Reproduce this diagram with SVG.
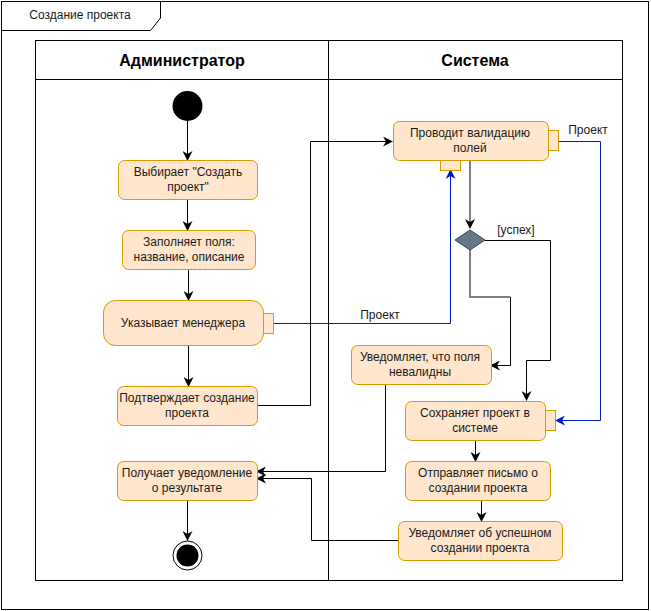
<svg xmlns="http://www.w3.org/2000/svg" width="651" height="611" viewBox="0 0 651 611">
<defs>
<marker id="ab" viewBox="0 0 10 10" refX="9" refY="5" markerWidth="10" markerHeight="10" markerUnits="userSpaceOnUse" orient="auto"><path d="M0,0 L10,5 L0,10 L3,5 Z" fill="#000"/></marker>
<marker id="abl" viewBox="0 0 10 10" refX="9" refY="5" markerWidth="10" markerHeight="10" markerUnits="userSpaceOnUse" orient="auto"><path d="M0,0 L10,5 L0,10 L3,5 Z" fill="#001DBC"/></marker>
<style>
text{font-family:"Liberation Sans",Arial,Helvetica,sans-serif;font-size:12px;fill:#1a1a1a;text-anchor:middle}
.hdr{font-size:16px;font-weight:bold;fill:#000}
.act{fill:#ffe6cc;stroke:#d79b00;stroke-width:1}
.pin{fill:#ffe6cc;stroke:#d79b00;stroke-width:1}
.ln{fill:none;stroke:#000;stroke-width:1}
.gr{fill:none;stroke:#808080;stroke-width:2}
.bl{fill:none;stroke:#001DBC;stroke-width:1}
.frame{fill:none;stroke:#000;stroke-width:1}
</style>
</defs>
<rect width="651" height="611" fill="#fff"/>
<g id="frame">
<rect class="frame" x="1.5" y="1.5" width="647" height="608"/>
<path class="frame" d="M1.5,30.5 L150.5,30.5 L160.5,18 L160.5,1.5"/>
<text x="80" y="19" text-anchor="middle">Создание проекта</text>
</g>
<g id="pool">
<rect class="frame" x="35.5" y="40.5" width="587" height="540"/>
<line class="frame" x1="35.5" y1="79.5" x2="622.5" y2="79.5"/>
<line class="frame" x1="328.5" y1="40.5" x2="328.5" y2="580.5"/>
<text class="hdr" x="182" y="66">Администратор</text>
<text class="hdr" x="475" y="66">Система</text>
</g>
<g id="connectors">
<line class="ln" x1="187.5" y1="121" x2="187.5" y2="160" marker-end="url(#ab)"/>
<line class="ln" x1="187.5" y1="200" x2="187.5" y2="230" marker-end="url(#ab)"/>
<line class="ln" x1="188.5" y1="270" x2="188.5" y2="300" marker-end="url(#ab)"/>
<line class="ln" x1="188.5" y1="346" x2="188.5" y2="386" marker-end="url(#ab)"/>
<polyline class="ln" points="257,405.5 310.5,405.5 310.5,141.5 392,141.5" marker-end="url(#ab)"/>
<polyline class="bl" points="274,323.5 450.5,323.5 450.5,170" marker-end="url(#abl)"/>
<text x="380" y="319">Проект</text>
<polyline class="bl" points="558,141.5 600.5,141.5 600.5,420.5 556,420.5" marker-end="url(#abl)"/>
<text x="588" y="134">Проект</text>
<line class="gr" x1="470" y1="160" x2="470" y2="222"/>
<path d="M465,219 L470,229 L475,219 L470,222 Z" fill="#000"/>
<polyline class="ln" points="485,240.5 550.5,240.5 550.5,360.5 526.5,360.5 526.5,400" marker-end="url(#ab)"/>
<text x="516" y="234">[успех]</text>
<polyline class="ln" points="510.5,297 510.5,365.5 491,365.5" marker-end="url(#ab)"/>
<polyline class="gr" points="470,250 470,297 510.5,297"/>
<polyline class="ln" points="385.5,385 385.5,471.5 257,471.5" marker-end="url(#ab)"/>
<polyline class="ln" points="398,540.5 311.5,540.5 311.5,478.5 257,478.5" marker-end="url(#ab)"/>
<line class="ln" x1="475.5" y1="440" x2="475.5" y2="461" marker-end="url(#ab)"/>
<line class="ln" x1="481.5" y1="500" x2="481.5" y2="521" marker-end="url(#ab)"/>
<line class="ln" x1="187.5" y1="501" x2="187.5" y2="540" marker-end="url(#ab)"/>
</g>
<g id="start"><circle cx="187.5" cy="106" r="15" fill="#000"/></g>
<g id="a1"><rect class="act" x="118.5" y="160.5" width="139" height="39" rx="6"/><text x="188" y="176">Выбирает "Создать</text><text x="188" y="191">проект"</text></g>
<g id="a2"><rect class="act" x="122.5" y="230.5" width="133" height="39" rx="6"/><text x="189" y="246">Заполняет поля:</text><text x="189" y="261">название, описание</text></g>
<g id="a3"><rect class="act" x="103.5" y="300.5" width="160" height="45" rx="12"/><rect class="pin" x="263.5" y="313.5" width="10" height="20"/><text x="183" y="327">Указывает менеджера</text></g>
<g id="a4"><rect class="act" x="117.5" y="386.5" width="140" height="39" rx="6"/><text x="187" y="402">Подтверждает создание</text><text x="187" y="417">проекта</text></g>
<g id="a5"><rect class="act" x="117.5" y="461.5" width="140" height="39" rx="6"/><text x="187" y="477">Получает уведомление</text><text x="187" y="492">о результате</text></g>
<g id="end"><circle cx="187.5" cy="555.5" r="14.5" fill="#fff" stroke="#000" stroke-width="1"/><circle cx="187.5" cy="555.5" r="11" fill="#000"/></g>
<g id="s1"><rect class="act" x="393.5" y="121.5" width="155" height="39" rx="6"/><rect class="pin" x="548.5" y="130.5" width="10" height="20"/><rect class="pin" x="440.5" y="160.5" width="20" height="10"/><text x="470" y="137">Проводит валидацию</text><text x="470" y="152">полей</text></g>
<g id="dec"><path d="M470,230 L485,240 L470,250 L455,240 Z" fill="#647687" stroke="#314354" stroke-width="1"/></g>
<g id="s2"><rect class="act" x="351.5" y="345.5" width="140" height="39" rx="6"/><text x="420" y="361">Уведомляет, что поля</text><text x="420" y="376">невалидны</text></g>
<g id="s3"><rect class="act" x="405.5" y="401.5" width="140" height="39" rx="6"/><rect class="pin" x="545.5" y="410.5" width="10" height="20"/><text x="475" y="417">Сохраняет проект в</text><text x="475" y="432">системе</text></g>
<g id="s4"><rect class="act" x="405.5" y="461.5" width="145" height="39" rx="6"/><text x="478" y="477">Отправляет письмо о</text><text x="478" y="492">создании проекта</text></g>
<g id="s5"><rect class="act" x="398.5" y="521.5" width="164" height="39" rx="6"/><text x="480" y="537">Уведомляет об успешном</text><text x="480" y="552">создании проекта</text></g>
</svg>
